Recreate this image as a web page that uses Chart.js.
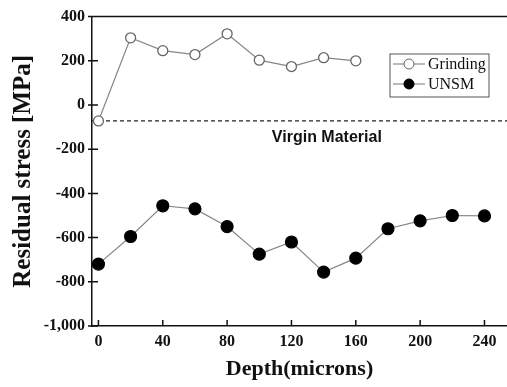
<!DOCTYPE html>
<html>
<head>
<meta charset="utf-8">
<script src="https://cdn.jsdelivr.net/npm/chart.js@4/dist/chart.umd.min.js"></script>
<style>
    html, body { margin: 0; padding: 0; background: #fff; }
    #wrap { width: 507px; height: 387px; }
</style>
</head>
<body>
<div id="wrap"><canvas id="myChart" width="507" height="387"></canvas></div>
<script>
const grindDepth = [0, 20, 40, 60, 80, 100, 120, 140, 160];
const grindStress = [-72, 304, 246, 228, 322, 203, 174, 214, 200];
const unsmDepth = [0, 20, 40, 60, 80, 100, 120, 140, 160, 180, 200, 220, 240];
const unsmStress = [-720, -595, -456, -470, -550, -675, -620, -756, -693, -560, -524, -500, -502];
const virginStress = -72;
const xTicks = [0, 40, 80, 120, 160, 200, 240];
const yTicks = [-1000, -800, -600, -400, -200, 0, 200, 400];

const X_MIN = -4, X_MAX = 254;
const serif = "'Liberation Serif', 'Times New Roman', serif";

// ticks drawn inward, top frame line, legend box and the "Virgin Material" note
const extras = {
    id: "extras",
    afterDraw(chart) {
        const c = chart.ctx;
        const xs = chart.scales.x, ys = chart.scales.y;
        const a = chart.chartArea;
        c.save();
        c.strokeStyle = "#111";
        c.lineWidth = 1.5;
        c.beginPath();
        c.moveTo(a.left, a.top);
        c.lineTo(a.right, a.top);
        xTicks.forEach(v => {
            const px = xs.getPixelForValue(v);
            c.moveTo(px, a.bottom);
            c.lineTo(px, a.bottom - 6);
        });
        yTicks.forEach(v => {
            const py = ys.getPixelForValue(v);
            c.moveTo(a.left - 4, py);
            c.lineTo(a.left + 6, py);
        });
        c.stroke();

        // Virgin Material label
        c.fillStyle = "#111";
        c.font = "bold 16px 'Liberation Sans', Arial, sans-serif";
        c.textAlign = "center";
        c.textBaseline = "middle";
        c.fillText("Virgin Material", xs.getPixelForValue(142), ys.getPixelForValue(-148));

        // legend
        const lx = 390, ly = 54, lw = 99, lh = 43;
        c.lineWidth = 1;
        c.strokeStyle = "#555";
        c.strokeRect(lx, ly, lw, lh);
        const rows = [
            {label: "Grinding", fill: "#fff", stroke: "#666"},
            {label: "UNSM", fill: "#000", stroke: "#000"}
        ];
        rows.forEach((r, i) => {
            const cy = ly + 10 + i * 20;
            c.strokeStyle = "#777";
            c.beginPath();
            c.moveTo(lx + 3, cy);
            c.lineTo(lx + 35, cy);
            c.stroke();
            c.beginPath();
            c.arc(lx + 19, cy, 5, 0, Math.PI * 2);
            c.fillStyle = r.fill;
            c.fill();
            c.strokeStyle = r.stroke;
            c.stroke();
            c.fillStyle = "#111";
            c.font = "16px " + serif;
            c.textAlign = "left";
            c.fillText(r.label, lx + 38, cy + 1);
        });
        c.restore();
    }
};

let ctx = document.getElementById("myChart").getContext("2d");

let myChart = new Chart(ctx, {
    type: "line",
    data: {
        datasets: [
            {
                label: "Grinding",
                data: grindDepth.map((d, i) => ({x: d, y: grindStress[i]})),
                borderColor: "#8a8484",
                borderWidth: 1.2,
                pointRadius: 5,
                pointBackgroundColor: "#fff",
                pointBorderColor: "#666",
                pointBorderWidth: 1.3,
                tension: 0,
            },
            {
                label: "UNSM",
                data: unsmDepth.map((d, i) => ({x: d, y: unsmStress[i]})),
                borderColor: "#8a8484",
                borderWidth: 1.2,
                pointRadius: 6,
                pointBackgroundColor: "#000",
                pointBorderColor: "#000",
                tension: 0,
            },
            {
                label: "Virgin",
                data: [{x: X_MIN, y: virginStress}, {x: X_MAX, y: virginStress}],
                borderColor: "#222",
                borderWidth: 1.2,
                borderDash: [4, 3],
                pointRadius: 0,
            },
        ],
    },
    options: {
        responsive: false,
        animation: false,
        layout: {autoPadding: false, padding: {top: 10, right: 0, left: 0, bottom: 0}},
        plugins: {
            legend: {display: false},
            tooltip: {enabled: false},
        },
        scales: {
            x: {
                type: "linear",
                min: X_MIN,
                max: X_MAX,
                afterFit: s => { s.height = 61; },
                afterBuildTicks: s => { s.ticks = xTicks.map(v => ({value: v})); },
                grid: {display: false, drawTicks: false},
                border: {color: "#111", width: 1.5},
                ticks: {color: "#111", padding: 6, font: {family: serif, size: 16, weight: "bold"}},
                title: {
                    display: true,
                    text: "Depth(microns)",
                    color: "#111",
                    padding: {top: 3},
                    font: {family: serif, size: 22, weight: "bold"},
                },
            },
            y: {
                min: -1000,
                max: 400,
                afterFit: s => { s.width = 92; },
                afterBuildTicks: s => { s.ticks = yTicks.map(v => ({value: v})); },
                grid: {display: false, drawTicks: false},
                border: {color: "#111", width: 1.5},
                ticks: {color: "#111", padding: 7, font: {family: serif, size: 16, weight: "bold"}},
                title: {
                    display: true,
                    text: "Residual stress [MPa]",
                    color: "#111",
                    padding: {top: 9, bottom: 0},
                    font: {family: serif, size: 25, weight: "bold"},
                },
            },
        },
    },
    plugins: [extras],
});
</script>
</body>
</html>
